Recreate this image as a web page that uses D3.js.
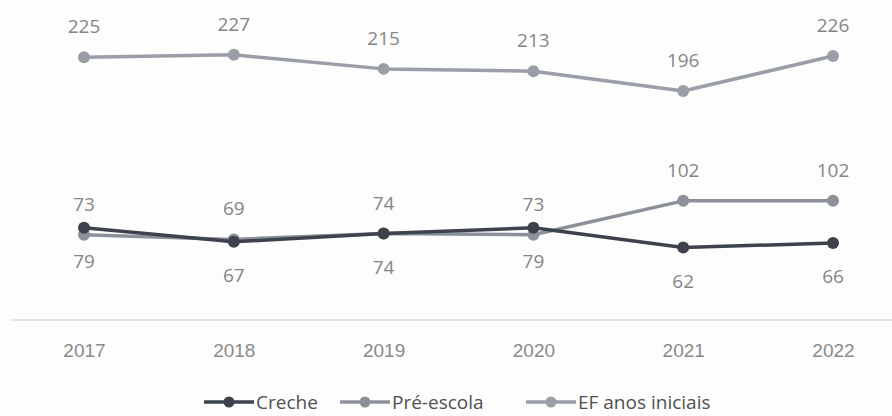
<!DOCTYPE html>
<html>
<head>
<meta charset="utf-8">
<script src="https://cdn.jsdelivr.net/npm/d3@7"></script>
<style>
  body { margin: 0; background: #fdfdfd; }
  svg { display: block; font-family: "Open Sans", "Noto Sans", sans-serif; }
</style>
</head>
<body>
<div id="chart"></div>
<script>
// data
const years = ["2017", "2018", "2019", "2020", "2021", "2022"];
const creche = [79, 67, 74, 79, 62, 66];
const preEscola = [73, 69, 74, 73, 102, 102];
const efIniciais = [225, 227, 215, 213, 196, 226];

const series = [
  { name: "Creche", values: creche, color: "#3d424c", labelPos: "below" },
  { name: "Pré-escola", values: preEscola, color: "#8c9199", labelPos: "above" },
  { name: "EF anos iniciais", values: efIniciais, color: "#9a9ea6", labelPos: "above" }
];

const width = 892, height = 416;

const svg = d3.select("#chart")
  .append("svg")
  .attr("width", width)
  .attr("height", height);

// x: point scale over years
let x = d3.scalePoint()
  .domain(years)
  .range([84, 833]);

// y: hidden value axis
let y = d3.scaleLinear()
  .domain([0, 250])
  .range([320, 28]);

// base axis line
svg.append("line")
  .attr("x1", 10).attr("x2", 892)
  .attr("y1", y(0)).attr("y2", y(0))
  .attr("stroke", "#d9dde3")
  .attr("stroke-width", 1.5);

// year labels
const xAxis = svg.append("g")
  .attr("transform", "translate(0," + y(0) + ")")
  .call(d3.axisBottom(x).tickSize(0).tickPadding(24));
xAxis.select(".domain").remove();
xAxis.selectAll("text")
  .attr("fill", "#8a8a8a")
  .style("font-size", "19px");

const line = d3.line()
  .x((d, i) => x(years[i]))
  .y(d => y(d));

// draw series, EF first so creche/pre sit on top
series.slice().reverse().forEach(s => {
  svg.append("path")
    .datum(s.values)
    .attr("fill", "none")
    .attr("stroke", s.color)
    .attr("stroke-width", 3.5)
    .attr("stroke-linejoin", "round")
    .attr("d", line);

  svg.selectAll(null)
    .data(s.values)
    .enter()
    .append("circle")
    .attr("cx", (d, i) => x(years[i]))
    .attr("cy", d => y(d))
    .attr("r", 6)
    .attr("fill", s.color);
});

// value labels
series.forEach(s => {
  svg.selectAll(null)
    .data(s.values)
    .enter()
    .append("text")
    .attr("x", (d, i) => x(years[i]))
    .attr("y", d => s.labelPos === "above" ? y(d) - 24 : y(d) + 40)
    .attr("text-anchor", "middle")
    .attr("fill", "#858585")
    .style("font-size", "19px")
    .text(d => d);
});

// legend
const legendX = [204, 340, 526];
const legend = svg.append("g");
series.forEach((s, i) => {
  const g = legend.append("g").attr("transform", "translate(" + legendX[i] + ",402)");
  g.append("line")
    .attr("x1", 0).attr("x2", 50)
    .attr("y1", 0).attr("y2", 0)
    .attr("stroke", s.color)
    .attr("stroke-width", 3.5);
  g.append("circle")
    .attr("cx", 25).attr("cy", 0).attr("r", 5.5)
    .attr("fill", s.color);
  g.append("text")
    .attr("x", 52).attr("y", 6.5)
    .attr("fill", "#505050")
    .style("font-size", "19px")
    .text(s.name);
});
</script>
</body>
</html>
